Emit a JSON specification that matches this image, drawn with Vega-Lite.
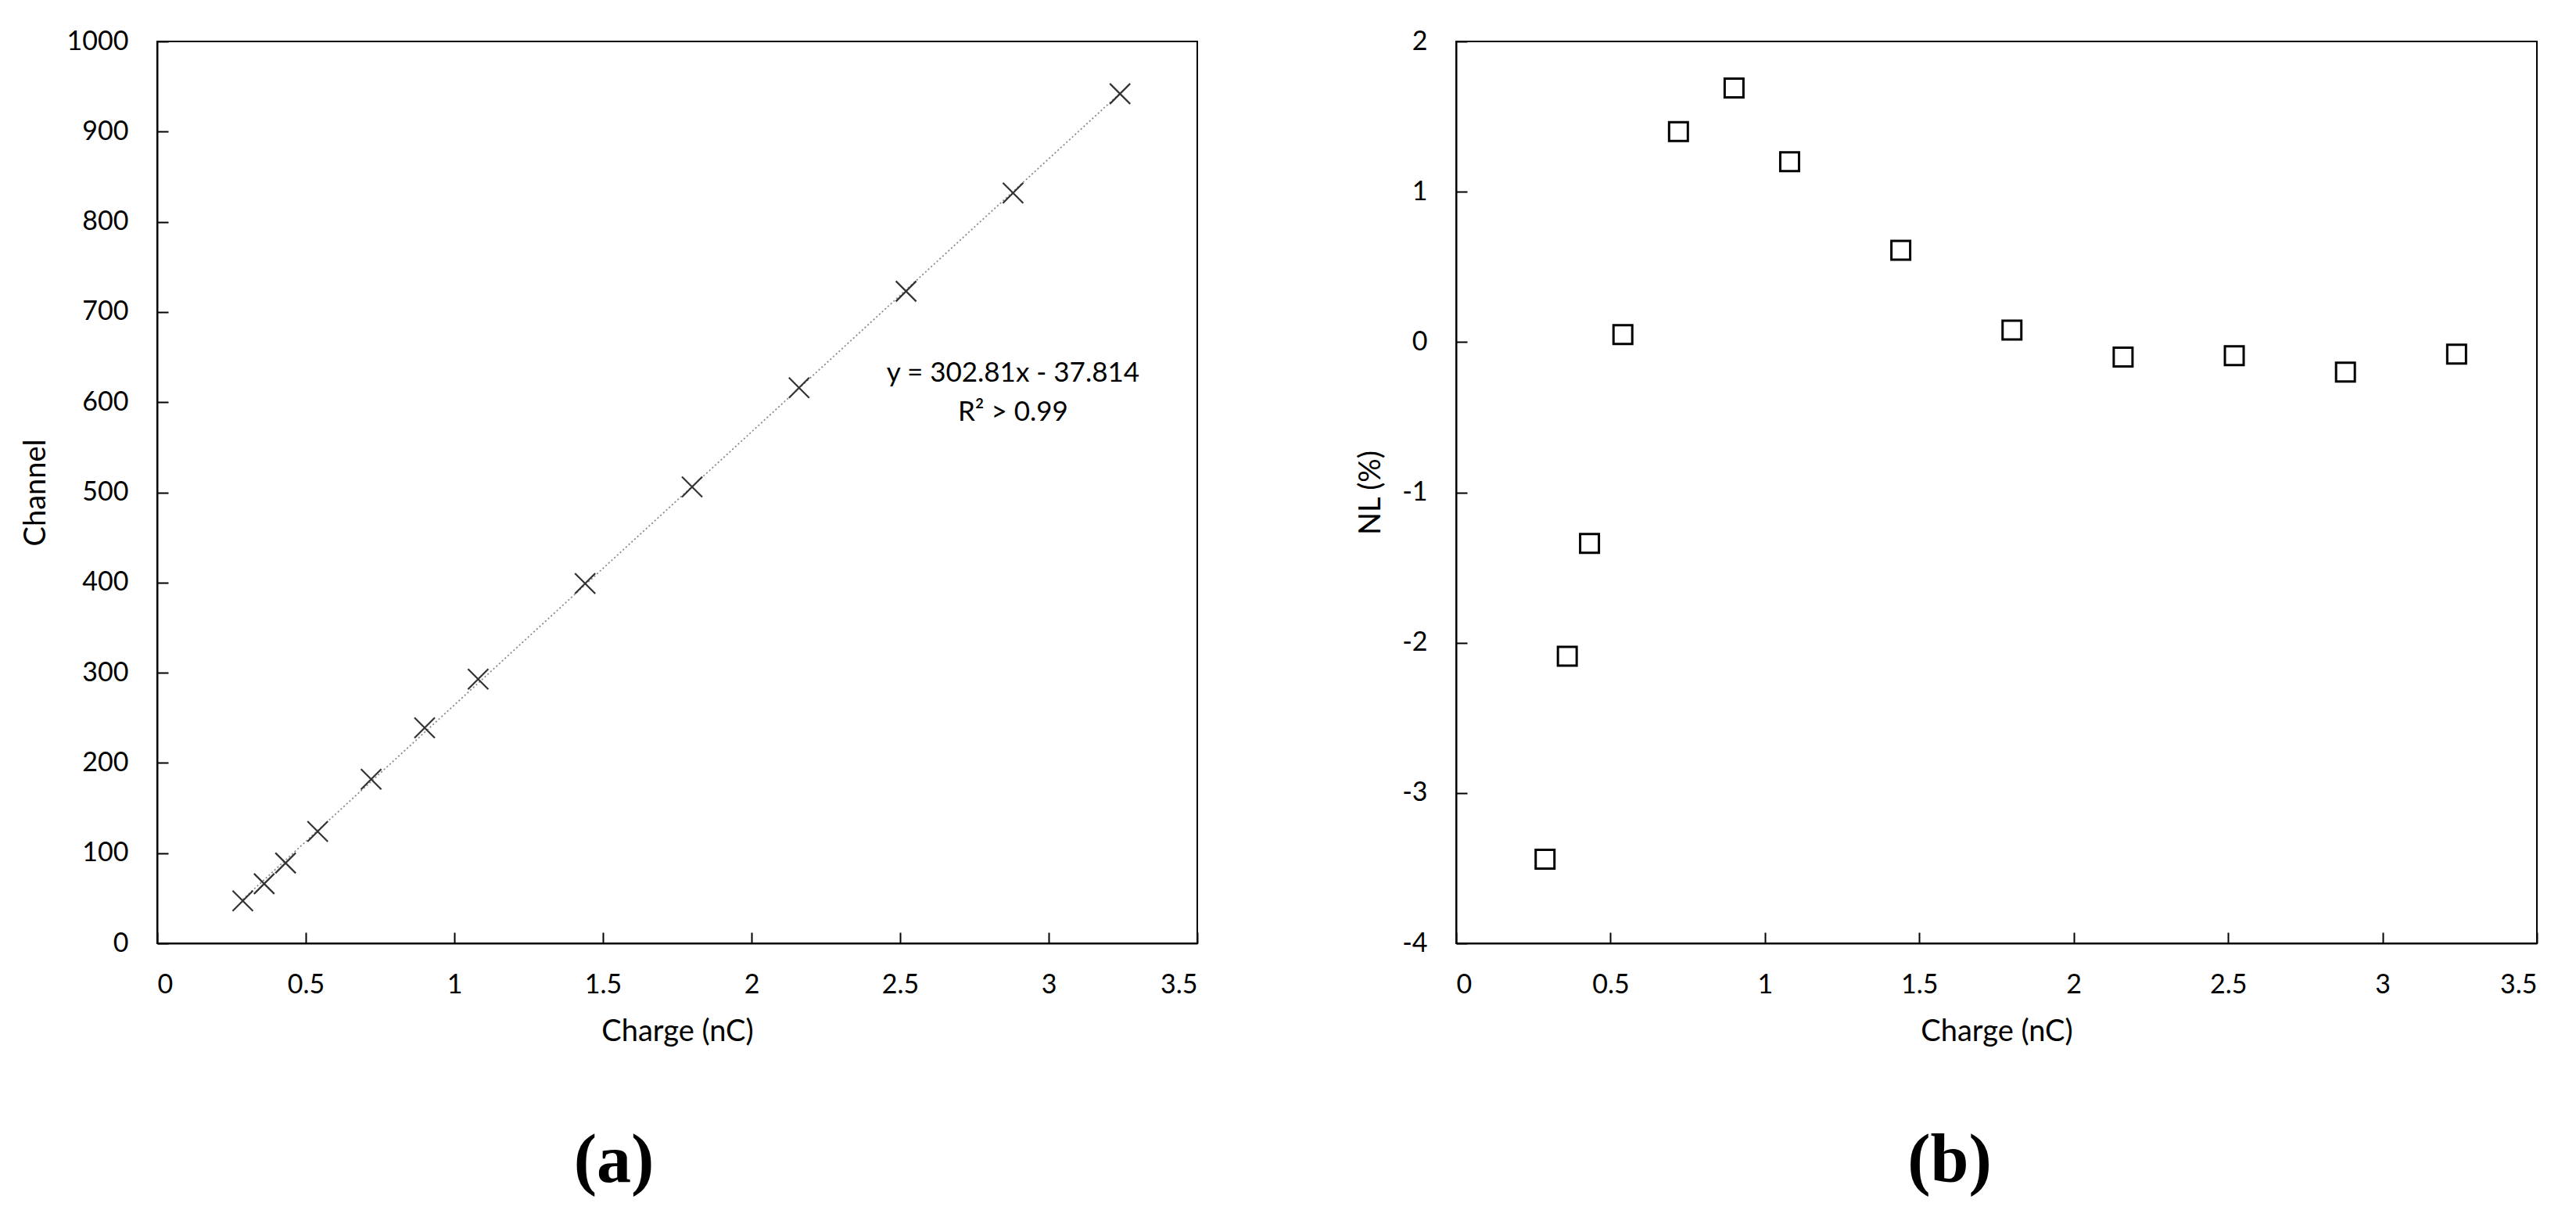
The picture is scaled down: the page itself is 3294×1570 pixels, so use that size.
{
  "$schema": "https://vega.github.io/schema/vega-lite/v6.json",
  "background": "white",
  "padding": {"left": 26, "top": 35, "right": 10, "bottom": 4},
  "datasets": {
    "pts": [
      {"charge": 0.288, "channel": 47, "nl": -3.44},
      {"charge": 0.36, "channel": 66, "nl": -2.09},
      {"charge": 0.432, "channel": 89, "nl": -1.34},
      {"charge": 0.54, "channel": 124, "nl": 0.05},
      {"charge": 0.72, "channel": 182, "nl": 1.40},
      {"charge": 0.9, "channel": 239, "nl": 1.69},
      {"charge": 1.08, "channel": 293, "nl": 1.20},
      {"charge": 1.44, "channel": 399, "nl": 0.61},
      {"charge": 1.8, "channel": 506, "nl": 0.08},
      {"charge": 2.16, "channel": 616, "nl": -0.10},
      {"charge": 2.52, "channel": 723, "nl": -0.09},
      {"charge": 2.88, "channel": 832, "nl": -0.20},
      {"charge": 3.24, "channel": 942, "nl": -0.08}
    ],
    "eq": [
      {"charge": 2.88, "channel": 632, "label": "y = 302.81x - 37.814"},
      {"charge": 2.88, "channel": 589, "label": "R² > 0.99"}
    ]
  },
  "config": {
    "font": "Lato",
    "view": {"stroke": "black", "strokeWidth": 2},
    "axis": {
      "grid": false,
      "domainColor": "black",
      "domainWidth": 2,
      "tickColor": "black",
      "tickWidth": 2,
      "tickSize": -14,
      "labelFont": "Lato",
      "labelFontSize": 34,
      "labelColor": "black",
      "titleFont": "Lato",
      "titleFontSize": 38,
      "titleFontWeight": "normal",
      "titleColor": "black"
    },
    "axisX": {"labelPadding": 50, "titlePadding": 24},
    "axisY": {"labelPadding": 51, "titlePadding": 20},
    "title": {
      "font": "Liberation Serif",
      "fontSize": 88,
      "fontWeight": "bold",
      "color": "black",
      "orient": "bottom",
      "frame": "group",
      "anchor": "middle",
      "offset": 103
    }
  },
  "spacing": 200,
  "hconcat": [
    {
      "width": 1330,
      "height": 1153,
      "title": {"text": "(a)", "dx": -81},
      "data": {"name": "pts"},
      "layer": [
        {
          "transform": [{"regression": "channel", "on": "charge"}],
          "mark": {"type": "line", "color": "#8a8a8a", "strokeWidth": 1.8, "strokeDash": [2, 3]},
          "encoding": {
            "x": {"field": "charge", "type": "quantitative"},
            "y": {"field": "channel", "type": "quantitative"}
          }
        },
        {
          "mark": {"type": "point", "shape": "M-1,-1L1,1M-1,1L1,-1", "size": 676, "strokeWidth": 2.2, "color": "#333333", "filled": false, "opacity": 1},
          "encoding": {
            "x": {"field": "charge", "type": "quantitative", "title": "Charge (nC)",
              "scale": {"domain": [0, 3.5], "nice": false},
              "axis": {"values": [0, 0.5, 1, 1.5, 2, 2.5, 3, 3.5], "labelExpr": "'' + datum.value"}},
            "y": {"field": "channel", "type": "quantitative", "title": "Channel",
              "scale": {"domain": [0, 1000], "nice": false},
              "axis": {"values": [0, 100, 200, 300, 400, 500, 600, 700, 800, 900, 1000], "labelExpr": "'' + datum.value"}}
          }
        },
        {
          "data": {"name": "eq"},
          "mark": {"type": "text", "fontSize": 35, "align": "center", "baseline": "middle", "color": "black", "font": "Lato"},
          "encoding": {
            "x": {"field": "charge", "type": "quantitative"},
            "y": {"field": "channel", "type": "quantitative"},
            "text": {"field": "label"}
          }
        }
      ]
    },
    {
      "width": 1382,
      "height": 1153,
      "title": {"text": "(b)", "dx": -60},
      "data": {"name": "pts"},
      "mark": {"type": "point", "shape": "square", "size": 576, "strokeWidth": 3, "color": "black", "filled": false, "opacity": 1},
      "encoding": {
        "x": {"field": "charge", "type": "quantitative", "title": "Charge (nC)",
          "scale": {"domain": [0, 3.5], "nice": false},
          "axis": {"values": [0, 0.5, 1, 1.5, 2, 2.5, 3, 3.5], "labelExpr": "'' + datum.value"}},
        "y": {"field": "nl", "type": "quantitative", "title": "NL (%)",
          "scale": {"domain": [-4, 2], "nice": false},
          "axis": {"values": [-4, -3, -2, -1, 0, 1, 2], "labelExpr": "'' + datum.value"}}
      }
    }
  ]
}
